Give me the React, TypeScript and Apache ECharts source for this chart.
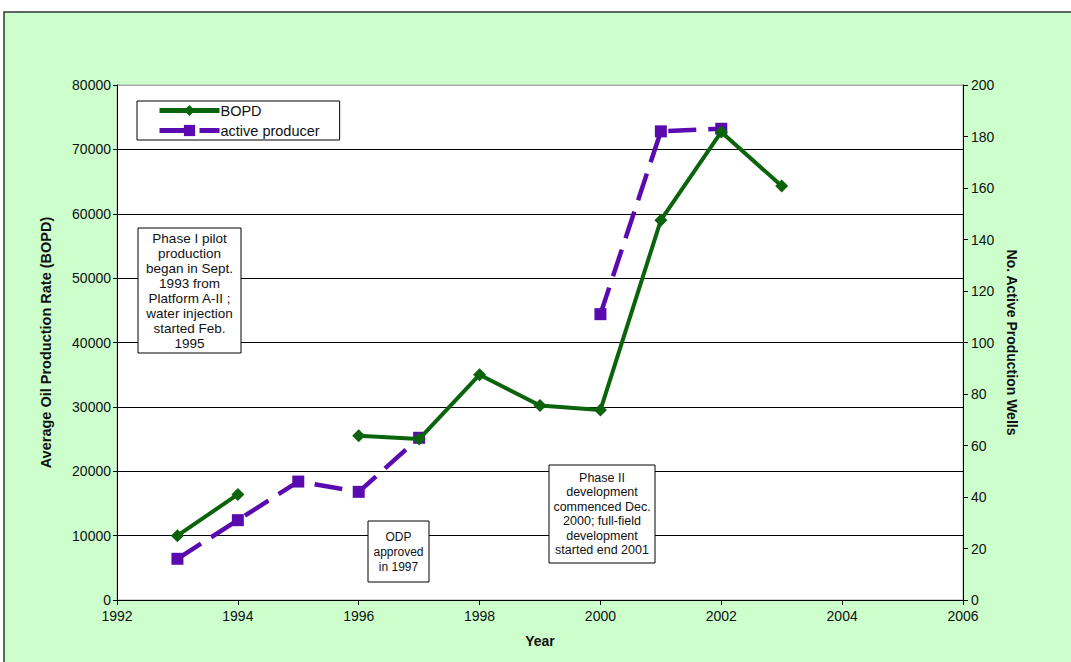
import React, { useEffect, useRef } from "react";
import * as echarts from "echarts";

const years = [1993, 1994, 1995, 1996, 1997, 1998, 1999, 2000, 2001, 2002, 2003];
const bopd: (number | null)[] = [10000, 16400, null, 25500, 25000, 35000, 30200, 29500, 59000, 72700, 64300];
const producers: (number | null)[] = [16, 31, 46, 42, 63, null, null, 111, 182, 183, null];

const note1 = ["Phase I pilot", "production", "began in Sept.", "1993 from", "Platform A-II ;", "water injection", "started Feb.", "1995"];
const note2 = ["ODP", "approved", "in 1997"];
const note3 = ["Phase II", "development", "commenced Dec.", "2000; full-field", "development", "started end 2001"];

const FONT = "'Liberation Sans', Arial, sans-serif";

function noteBox(lines: string[], x: number, y: number, w: number, h: number, fontSize: number, lineHeight: number) {
  return [
    {
      type: "rect",
      shape: { x, y, width: w, height: h },
      style: { fill: "#ffffff", stroke: "#000000", lineWidth: 1 },
      z: 100,
    },
    {
      type: "text",
      x: x + w / 2,
      y: y + h / 2,
      style: {
        text: lines.join("\n"),
        align: "center",
        verticalAlign: "middle",
        fontFamily: FONT,
        fontSize,
        lineHeight,
        fill: "#111111",
      },
      z: 101,
    },
  ];
}

export default function App() {
  const ref = useRef<HTMLDivElement>(null);
  useEffect(() => {
    if (!ref.current) return;
    const chart = echarts.init(ref.current, undefined, { renderer: "svg" });
    const splitColors = ["#000", "#000", "#000", "#000", "#000", "#000", "#000", "#000", "#aaaaaa"];
    const plain = (v: number) => String(v);
    chart.setOption({
      animation: false,
      backgroundColor: "#ffffff",
      textStyle: { fontFamily: FONT },
      graphic: [
        {
          type: "rect",
          shape: { x: 4, y: 12, width: 1080, height: 660 },
          style: { fill: "#ccffcc", stroke: "#333333", lineWidth: 1.5 },
          z: -10,
          silent: true,
        },
        ...noteBox(note1, 138, 228, 103, 125, 13.5, 15),
        ...noteBox(note2, 368, 521, 61, 61, 12, 15),
        ...noteBox(note3, 549, 465, 106, 98, 12.5, 14.5),
      ],
      grid: {
        left: 117,
        right: 108,
        top: 85,
        bottom: 62,
        show: true,
        backgroundColor: "#ffffff",
        borderColor: "#aaaaaa",
        borderWidth: 1,
      },
      legend: {
        orient: "vertical",
        left: 137,
        top: 101,
        padding: [2, 20, 2, 20],
        itemWidth: 60,
        itemHeight: 14,
        itemGap: 5,
        borderColor: "#000",
        borderWidth: 1,
        backgroundColor: "#ffffff",
        lineStyle: { width: 5 },
        textStyle: { fontFamily: FONT, fontSize: 14.5, color: "#111", padding: [0, 40, 0, -4] },
        data: ["BOPD", "active producer"],
        z: 100,
      },
      xAxis: {
        type: "value",
        min: 1992,
        max: 2006,
        interval: 2,
        name: "Year",
        nameLocation: "middle",
        nameGap: 34,
        nameTextStyle: { fontFamily: FONT, fontWeight: "bold", fontSize: 14, color: "#111" },
        axisLine: { lineStyle: { color: "#000", width: 1 } },
        axisTick: { show: true, inside: false, length: 5, lineStyle: { color: "#000" } },
        axisLabel: { fontFamily: FONT, fontSize: 14, color: "#111", margin: 9, formatter: plain },
        splitLine: { show: false },
      },
      yAxis: [
        {
          type: "value",
          min: 0,
          max: 80000,
          interval: 10000,
          position: "left",
          name: "Average Oil Production Rate (BOPD)",
          nameLocation: "middle",
          nameGap: 64,
          nameTextStyle: { fontFamily: FONT, fontWeight: "bold", fontSize: 14.5, color: "#111" },
          axisLine: { show: true, lineStyle: { color: "#000", width: 1 } },
          axisTick: { show: true, inside: false, length: 4, lineStyle: { color: "#000" } },
          axisLabel: { fontFamily: FONT, fontSize: 14, color: "#111", margin: 6, formatter: plain },
          splitLine: { show: true, lineStyle: { color: splitColors, width: 1 } },
        },
        {
          type: "value",
          min: 0,
          max: 200,
          interval: 20,
          position: "right",
          name: "No. Active Production Wells",
          nameLocation: "middle",
          nameRotate: -90,
          nameGap: 38,
          nameTextStyle: { fontFamily: FONT, fontWeight: "bold", fontSize: 14, color: "#111" },
          axisLine: { show: true, lineStyle: { color: "#000", width: 1 } },
          axisTick: { show: true, inside: false, length: 5, lineStyle: { color: "#000" } },
          axisLabel: { fontFamily: FONT, fontSize: 14, color: "#111", margin: 8, formatter: plain },
          splitLine: { show: false },
        },
      ],
      series: [
        {
          name: "BOPD",
          type: "line",
          yAxisIndex: 0,
          data: years.map((y, i) => [y, bopd[i]]),
          connectNulls: false,
          symbol: "diamond",
          symbolSize: 13,
          color: "#0b640b",
          lineStyle: { color: "#0b640b", width: 4 },
          itemStyle: { color: "#0b640b" },
          z: 5,
        },
        {
          name: "active producer",
          type: "line",
          yAxisIndex: 1,
          data: years.map((y, i) => [y, producers[i]]),
          connectNulls: false,
          symbol: "rect",
          symbolSize: 12,
          color: "#5a0bb0",
          lineStyle: { color: "#5a0bb0", width: 4.5, type: [28, 12] },
          itemStyle: { color: "#5a0bb0" },
          z: 4,
        },
      ],
    });
    return () => chart.dispose();
  }, []);
  return (
    <div
      ref={ref}
      style={{ position: "fixed", left: 0, top: 0, width: 1071, height: 662 }}
    />
  );
}
